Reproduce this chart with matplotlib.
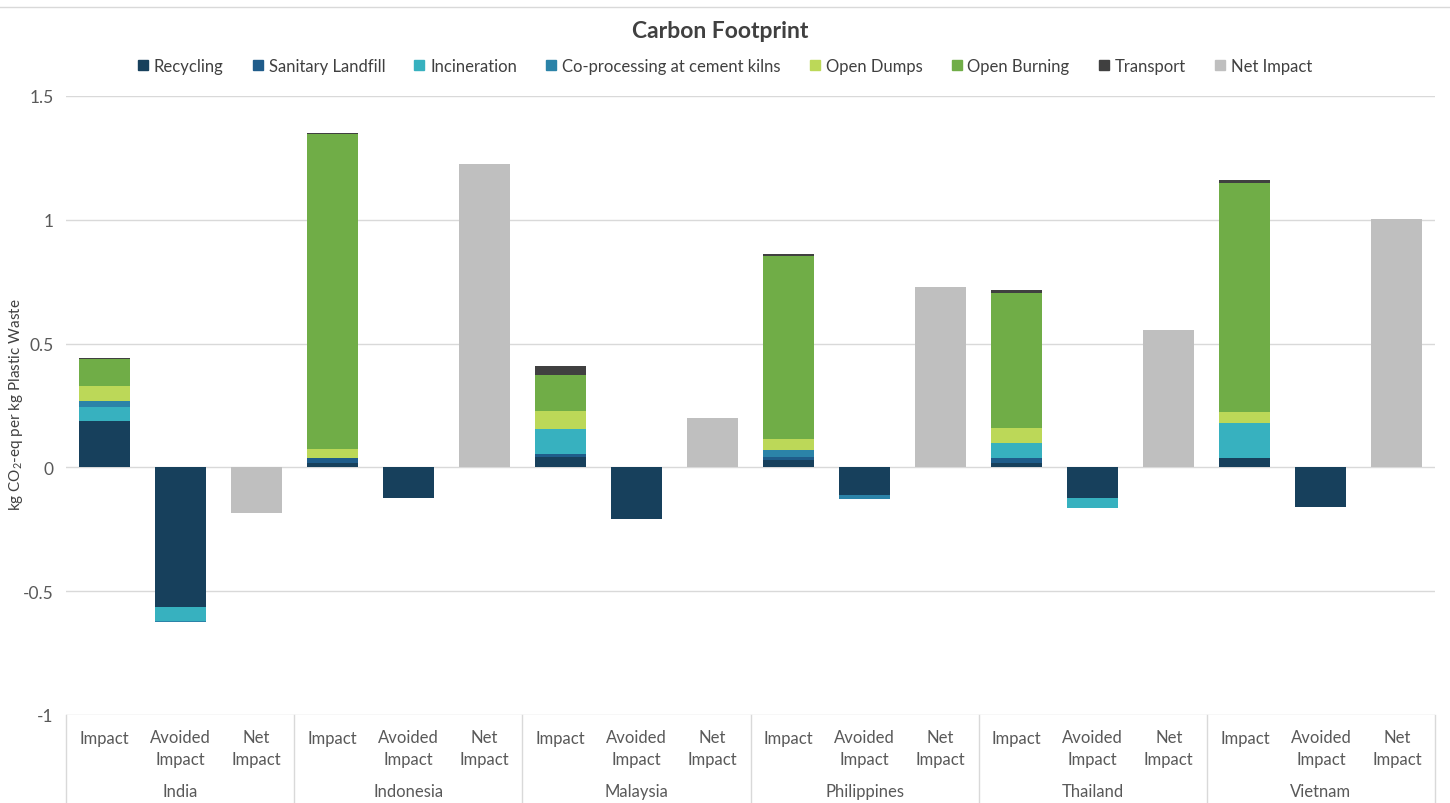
import matplotlib
matplotlib.use('Agg')
import matplotlib.pyplot as plt
import matplotlib.transforms as mtransforms
from matplotlib.lines import Line2D
from matplotlib.patches import Patch
from matplotlib.ticker import FuncFormatter
import numpy as np

plt.rcParams['font.family'] = ['Lato', 'DejaVu Sans']
plt.rcParams['axes.unicode_minus'] = False
plt.rcParams['mathtext.fontset'] = 'custom'
plt.rcParams['mathtext.rm'] = 'Lato'
plt.rcParams['mathtext.default'] = 'regular'

countries = ['India', 'Indonesia', 'Malaysia', 'Philippines', 'Thailand', 'Vietnam']
sub_labels = ['Impact', 'Avoided\nImpact', 'Net\nImpact']

series = ['Recycling', 'Sanitary Landfill', 'Incineration', 'Co-processing at cement kilns',
          'Open Dumps', 'Open Burning', 'Transport']
colors = ['#17405c', '#1f5c8a', '#37b1bf', '#2b83a8', '#bcd858', '#70ad47', '#404040']
net_color = '#bfbfbf'

# impact per country (positive)
recycling_imp = [0.187, 0.018, 0.042, 0.030, 0.019, 0.036]
landfill_imp = [0.0, 0.018, 0.013, 0.013, 0.020, 0.003]
incineration_imp = [0.057, 0.0, 0.099, 0.0, 0.061, 0.139]
coproc_imp = [0.023, 0.0, 0.0, 0.027, 0.0, 0.0]
dumps_imp = [0.062, 0.037, 0.075, 0.046, 0.059, 0.044]
burning_imp = [0.107, 1.272, 0.143, 0.737, 0.544, 0.925]
transport_imp = [0.006, 0.004, 0.037, 0.008, 0.012, 0.014]

# avoided impact per country (negative)
recycling_av = [-0.563, -0.125, -0.207, -0.113, -0.125, -0.158]
landfill_av = [0, 0, 0, 0, 0, 0]
incineration_av = [-0.057, 0, 0, 0, -0.039, 0]
coproc_av = [-0.005, 0, 0, -0.016, 0, 0]
dumps_av = [0, 0, 0, 0, 0, 0]
burning_av = [0, 0, 0, 0, 0, 0]
transport_av = [0, 0, 0, 0, 0, 0]

net_impact = [-0.185, 1.224, 0.199, 0.727, 0.554, 1.005]

impact = [recycling_imp, landfill_imp, incineration_imp, coproc_imp, dumps_imp, burning_imp, transport_imp]
avoided = [recycling_av, landfill_av, incineration_av, coproc_av, dumps_av, burning_av, transport_av]

fig = plt.figure(figsize=(14.5, 8.04), dpi=100)
ax = fig.add_axes([66/1450, 1-716/804, (1435-66)/1450, (716-97)/804])

n = len(countries)
x_imp = np.arange(n)*3
x_av = x_imp + 1
x_net = x_imp + 2
w = 0.67

bot_imp = np.zeros(n)
bot_av = np.zeros(n)
for vals_i, vals_a, c in zip(impact, avoided, colors):
    vi = np.array(vals_i)
    va = np.array(vals_a)
    ax.bar(x_imp, vi, w, bottom=bot_imp, color=c, zorder=3)
    ax.bar(x_av, va, w, bottom=bot_av, color=c, zorder=3)
    bot_imp += vi
    bot_av += va
ax.bar(x_net, net_impact, w, color=net_color, zorder=3)

ax.set_xlim(-0.5, 3*n-0.5)
ax.set_ylim(-1, 1.5)
ax.set_yticks([-1, -0.5, 0, 0.5, 1, 1.5])
ax.yaxis.set_major_formatter(FuncFormatter(lambda v, p: '%g' % v))
ax.grid(axis='y', color='#d9d9d9', lw=1, zorder=0)
ax.set_xticks([])
for s in ax.spines.values():
    s.set_visible(False)
ax.tick_params(axis='y', length=0, pad=9, labelsize=12.5, labelcolor='#595959')
ax.set_ylabel('kg CO$_2$-eq per kg Plastic Waste', fontsize=11, color='#404040')
ax.yaxis.set_label_coords((25-66)/1369, (716-405)/619)

# category labels below the axes
for i, c in enumerate(countries):
    for j, lab in enumerate(sub_labels):
        off = -23 if j == 0 else -33
        ax.annotate(lab, xy=(3*i+j, 0), xycoords=('data', 'axes fraction'),
                    xytext=(0, off), textcoords='offset pixels', ha='center', va='center',
                    fontsize=12, color='#595959', linespacing=1.4)
    ax.annotate(c, xy=(3*i+1, 0), xycoords=('data', 'axes fraction'),
                xytext=(0, -76), textcoords='offset pixels', ha='center', va='center',
                fontsize=12, color='#595959')

trans = mtransforms.blended_transform_factory(ax.transData, ax.transAxes)
for xb in np.arange(n+1)*3 - 0.5:
    ax.plot([xb, xb], [0, -90/619], transform=trans, clip_on=False, color='#d9d9d9', lw=1)

fig.add_artist(Line2D([0, 1], [1-8/804, 1-8/804], color='#d9d9d9', lw=1))

fig.text(0.497, 1-32/804, 'Carbon Footprint', ha='center', va='center',
         fontsize=16.5, fontweight='bold', color='#404040')

handles = [Patch(color=c, label=s) for s, c in zip(series, colors)]
handles.append(Patch(color=net_color, label='Net Impact'))
fig.legend(handles=handles, loc='center', bbox_to_anchor=(0.5, 1-67/804), ncol=8,
           frameon=False, fontsize=12, handlelength=0.6, handleheight=0.6,
           handletextpad=0.35, columnspacing=1.75, labelcolor='#404040')

fig.savefig('out.png', dpi=100)
